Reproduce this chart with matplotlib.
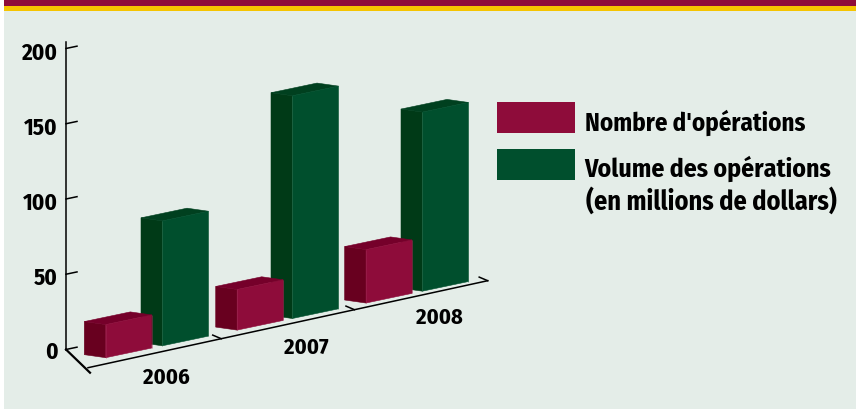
import matplotlib
matplotlib.use("Agg")
import matplotlib.pyplot as plt
from matplotlib.patches import Polygon, Rectangle
from matplotlib.transforms import Affine2D

# ---- data ----
years = ["2006", "2007", "2008"]
nombre = [22, 27, 35.5]
volume = [83, 148, 119]
y_ticks = [0, 50, 100, 150, 200]
legend_labels = ["Nombre d'opérations", "Volume des opérations", "(en millions de dollars)"]

# ---- styles ----
W, H = 856, 409
BG = "#E4EDE8"
MAROON = ("#8E0C3A", "#68001F", "#75002A")
GREEN = ("#004F2D", "#003A17", "#00401F")
EDGE_GREEN = "#2E6E4E"
EDGE_MAROON = "#A02A55"
FONT = ["Fira Sans Condensed", "Liberation Sans", "DejaVu Sans"]
CAT_PX, VAL_PX = 130.0, 1.505
ORIGIN_X, ORIGIN_Y = 105.7, 357.7
SHEAR = 0.21 * CAT_PX / VAL_PX

fig = plt.figure(figsize=(W / 100, H / 100), dpi=100, facecolor="white")
ax = fig.add_axes([0, 0, 1, 1])
ax.set_xlim(-ORIGIN_X / CAT_PX, (W - ORIGIN_X) / CAT_PX)
ax.set_ylim((ORIGIN_Y - H) / VAL_PX, ORIGIN_Y / VAL_PX)
ax.axis("off")

def px(x, y):
    return ((x - ORIGIN_X) / CAT_PX, (ORIGIN_Y - y) / VAL_PX)

def pxrect(x0, y0, x1, y1, color):
    (a, b), (c, d) = px(x0, y1), px(x1, y0)
    ax.add_patch(Rectangle((a, b), c - a, d - b, fc=color, ec="none", lw=0, zorder=0))

def label(x, y, s, ha="left", fs=17.5):
    tx, ty = px(x, y)
    ax.text(tx, ty, s, ha=ha, va="center_baseline", family=FONT,
            fontweight="bold", fontsize=fs, color="black", zorder=6)

pxrect(4, 11, W, H, BG)
pxrect(4, 0, W, 6, MAROON[0])
pxrect(4, 6, W, 11.3, "#F5C400")

oblique = Affine2D.from_values(1, SHEAR, 0, 1, 0, 0) + ax.transData

BAR_W = 46 / CAT_PX
DEPTH = (-21.4 / CAT_PX, 5.0)
GREEN_OFFSET = 56.7 / CAT_PX
MAROON_SHIFT = [0, 1.4 / CAT_PX, 0.3 / CAT_PX]

def bar3d(c, val, colors, edge, z):
    dc, dv = DEPTH
    front = [(c, 0), (c + BAR_W, 0), (c + BAR_W, val), (c, val)]
    side = [(c + dc, dv), (c, 0), (c, val), (c + dc, val + dv)]
    top = [(c, val), (c + BAR_W, val), (c + BAR_W + dc, val + dv), (c + dc, val + dv)]
    for pts, col in ((side, colors[1]), (top, colors[2]), (front, colors[0])):
        ax.add_patch(Polygon(pts, closed=True, fc=col, ec=col, lw=0.4,
                             transform=oblique, zorder=z))
    for xs in (c, c + BAR_W):
        ax.plot([xs, xs], [0, val], color=edge, lw=0.5, alpha=0.7,
                transform=oblique, zorder=z, solid_capstyle="butt")

for i in range(len(years)):
    bar3d(i + GREEN_OFFSET, volume[i], GREEN, EDGE_GREEN, 3)
    bar3d(i + MAROON_SHIFT[i], nombre[i], MAROON, EDGE_MAROON, 4)

# value axis on the back wall
WALL_C = (66 - ORIGIN_X) / CAT_PX
WALL_V = 11.0
TICK_C = 11 / CAT_PX
ax.plot([WALL_C, WALL_C], [px(0, 349.5)[1], px(0, 42)[1]], color="black", lw=1.1, zorder=5)
for t in y_ticks:
    ax.plot([WALL_C, WALL_C + TICK_C], [WALL_V + t, WALL_V + t], transform=oblique,
            color="black", lw=1.1, zorder=5)
    label(57.5, 350.3 - t * 1.497, str(t), ha="right", fs=16.6)

# floor
fx0, fy0 = px(88, 367.7)
fx1, fy1 = px(487.7, 280.7)
ax.plot([fx0, fx1], [fy0, fy1], color="black", lw=1.1, zorder=5)
lx0, ly0 = px(66, 349.5)
lx1, ly1 = px(90, 372.7)
ax.plot([lx0, lx1], [ly0, ly1], color="black", lw=1.6, zorder=5)
for i in range(1, len(years) + 1):
    tx = fx0 + (fx1 - fx0) * i / len(years)
    ty = fy0 + (fy1 - fy0) * i / len(years)
    ax.plot([tx, tx - 8.5 / CAT_PX], [ty, ty + 3.6 / VAL_PX], color="black", lw=1.1, zorder=5)

# category labels
label_pos = [(166, 375.5), (306, 345.5), (439, 315.5)]
for name, (lx, ly) in zip(years, label_pos):
    label(lx, ly, name, ha="center", fs=16.2)

# legend
pxrect(497, 102, 575, 133, MAROON[0])
pxrect(497, 149, 575, 180, GREEN[0])
label(584.5, 120, legend_labels[0], fs=17.9)
label(584, 166, legend_labels[1], fs=18.5)
label(586, 199, legend_labels[2], fs=18.9)

fig.savefig("out.png", dpi=100, facecolor="white")
